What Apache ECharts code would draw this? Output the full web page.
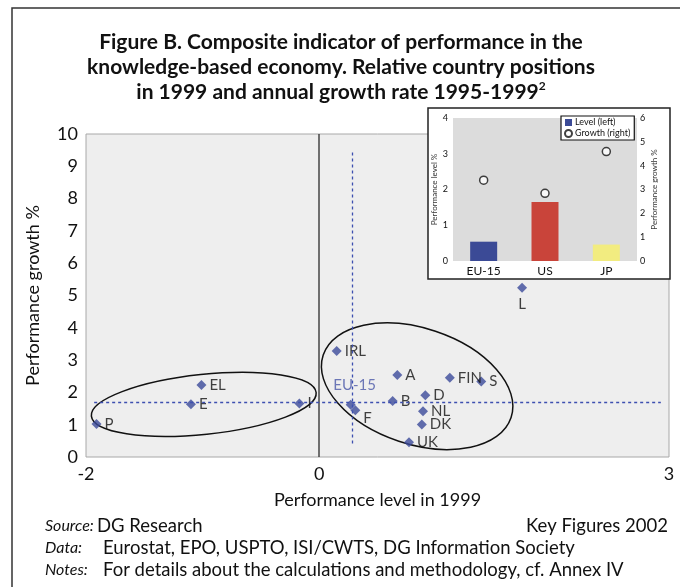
<!DOCTYPE html>
<html>
<head>
<meta charset="utf-8">
<script src="https://cdn.jsdelivr.net/npm/echarts@6/dist/echarts.min.js"></script>
<style>
  html, body { margin: 0; padding: 0; background: #fff; }
  #chart { width: 680px; height: 587px; }
</style>
</head>
<body>
<div id="chart"></div>
<script>
// country positions: level 1999 vs annual growth 1995-1999
var countries = ['P', 'E', 'EL', 'I', 'IRL', 'A', 'FIN', 'S', 'D', 'B', 'EU-15', 'F', 'NL', 'DK', 'UK', 'L'];
var level1999 = [-1.91, -1.10, -1.01, -0.17, 0.15, 0.67, 1.12, 1.39, 0.91, 0.63, 0.27, 0.31, 0.89, 0.88, 0.77, 1.74];
var growth9599 = [1.02, 1.63, 2.23, 1.66, 3.28, 2.54, 2.45, 2.34, 1.91, 1.73, 1.62, 1.45, 1.42, 1.01, 0.46, 5.24];
var xTicks = [-2, 0, 3];

// EU-15 guide lines
var euLevel = 0.28;
var euGrowth = 1.70;

// inset: EU-15 / US / JP
var blocs = ['EU-15', 'US', 'JP'];
var blocLevel = [0.54, 1.65, 0.46];
var blocGrowth = [3.39, 2.84, 4.59];

var blocColors = ['#3b4a96', '#c9443a', '#f2ec80'];
var dotColor = '#3b4a9a';
var font = 'Lato';

// the two hand drawn groupings (centre in data units, radii in px)
var groups = [
  { cx: -0.99, cy: 1.63, rx: 113, ry: 30, angle: 6 },
  { cx: 0.84, cy: 2.19, rx: 99, ry: 58, angle: -18.4 }
];

// label placement tweaks
var labelTweaks = {
  'EU-15': { position: 'top', distance: 7, offset: [4, 0], color: '#4a58a8' },
  'F': { offset: [0, 8] },
  'L': { position: 'bottom', distance: 4 }
};

var chart = echarts.init(document.getElementById('chart'));

var points = countries.map(function (c, i) {
  var item = { name: c, value: [level1999[i], growth9599[i]] };
  if (labelTweaks[c]) item.label = labelTweaks[c];
  return item;
});

function footText(x, y, text, italic, align) {
  return {
    type: 'text', x: x, y: y, z: 10,
    style: {
      text: text,
      fill: '#111',
      font: italic ? 'italic 16px ' + font : '18.5px ' + font,
      align: align || 'left',
      verticalAlign: 'middle'
    }
  };
}

var titleRich = {
  t: { fontFamily: font, fontSize: 21, fontWeight: 'bold', color: '#111', lineHeight: 25, align: 'center' },
  sup: { fontFamily: font, fontSize: 12, fontWeight: 'bold', color: '#111', verticalAlign: 'top', lineHeight: 14, align: 'center' }
};

var option = {
  animation: false,
  backgroundColor: '#fff',
  textStyle: { fontFamily: font },
  legend: {
    left: 561, top: 116,
    orient: 'vertical',
    padding: [2, 4, 2, 3],
    itemGap: 2,
    itemWidth: 7, itemHeight: 7,
    borderColor: '#111', borderWidth: 1.2,
    backgroundColor: '#fff',
    z: 8,
    textStyle: { fontSize: 9, color: '#111', fontFamily: font, padding: [0, 0, 0, -2] },
    data: [{ name: 'Level (left)', icon: 'rect' }, { name: 'Growth (right)', icon: 'circle' }]
  },
  grid: [
    { left: 86, top: 134, width: 583, height: 323, show: true,
      backgroundColor: '#eeeeee', borderColor: '#a8a8a8', borderWidth: 1 },
    { left: 453, top: 118, width: 184, height: 143, show: true, z: 4,
      backgroundColor: '#dcdcdc', borderWidth: 0 }
  ],
  xAxis: [
    {
      type: 'value', gridIndex: 0, min: -2, max: 3,
      axisLine: { show: false }, axisTick: { show: false }, splitLine: { show: false },
      axisLabel: { customValues: xTicks, fontSize: 18, color: '#111', margin: 8 },
      name: 'Performance level in 1999', nameLocation: 'middle', nameGap: 34,
      nameTextStyle: { fontSize: 18, color: '#111' }
    },
    {
      type: 'category', gridIndex: 1, data: blocs, z: 5,
      axisLine: { show: false }, axisTick: { show: false },
      axisLabel: { fontSize: 12, color: '#111', margin: 4 }
    }
  ],
  yAxis: [
    {
      type: 'value', gridIndex: 0, min: 0, max: 10, interval: 1,
      axisLine: { show: false }, axisTick: { show: false }, splitLine: { show: false },
      axisLabel: { fontSize: 18, color: '#111', margin: 8 },
      name: 'Performance growth %', nameLocation: 'middle', nameGap: 44,
      nameTextStyle: { fontSize: 18, color: '#111' }
    },
    {
      type: 'value', gridIndex: 1, min: 0, max: 4, interval: 1, z: 5,
      axisLine: { show: false }, axisTick: { show: false }, splitLine: { show: false },
      axisLabel: { fontSize: 9, color: '#111', margin: 5 },
      name: 'Performance level %', nameLocation: 'middle', nameGap: 10,
      nameTextStyle: { fontSize: 8, color: '#333' }
    },
    {
      type: 'value', gridIndex: 1, position: 'right', min: 0, max: 6, interval: 1, z: 5,
      axisLine: { show: false }, axisTick: { show: false }, splitLine: { show: false },
      axisLabel: { fontSize: 9, color: '#111', margin: 3 },
      name: 'Performance growth %', nameLocation: 'middle', nameGap: 13,
      nameTextStyle: { fontSize: 8, color: '#333' }
    }
  ],
  graphic: [
    // outer frame
    { type: 'polyline', z: 10, shape: { points: [[12, 587], [12, 8], [680, 8]] },
      style: { fill: 'none', stroke: '#333', lineWidth: 1.5 } },
    // title
    { type: 'text', x: 341, y: 30, z: 10,
      style: {
        text: '{t|Figure B. Composite indicator of performance in the}\n' +
              '{t|knowledge-based economy. Relative country positions}\n' +
              '{t|in 1999 and annual growth rate 1995-1999}{sup|2}',
        align: 'center', verticalAlign: 'top', fill: '#111',
        rich: titleRich
      } },
    // inset box
    { type: 'rect', z: 3, shape: { x: 428, y: 108, width: 242, height: 171 },
      style: { fill: '#fff', stroke: '#222', lineWidth: 1.5 } },
    footText(45, 526, 'Source:', true),
    footText(97, 526, 'DG Research'),
    footText(668, 526, 'Key Figures 2002', false, 'right'),
    footText(45, 548, 'Data:', true),
    footText(103, 548, 'Eurostat, EPO, USPTO, ISI/CWTS, DG Information Society'),
    footText(45, 570, 'Notes:', true),
    footText(103, 570, 'For details about the calculations and methodology, cf. Annex IV')
  ],
  series: [
    {
      type: 'custom',
      xAxisIndex: 0, yAxisIndex: 0,
      silent: true,
      z: 3,
      data: groups.map(function (g) { return [g.cx, g.cy]; }),
      renderItem: function (params, api) {
        var g = groups[params.dataIndex];
        var p = api.coord([api.value(0), api.value(1)]);
        return {
          type: 'ellipse',
          x: p[0], y: p[1],
          rotation: g.angle * Math.PI / 180,
          shape: { cx: 0, cy: 0, rx: g.rx, ry: g.ry },
          style: { fill: 'none', stroke: '#111', lineWidth: 1.5 }
        };
      }
    },
    {
      name: 'countries',
      type: 'scatter',
      xAxisIndex: 0, yAxisIndex: 0,
      symbol: 'diamond',
      symbolSize: 10,
      z: 4,
      itemStyle: { color: dotColor },
      label: {
        show: true, position: 'right', distance: 3,
        formatter: '{b}', fontSize: 15, color: '#111', fontFamily: font
      },
      data: points,
      markLine: {
        silent: true,
        symbol: 'none',
        label: { show: false },
        lineStyle: { color: '#3d4fb0', width: 1.3, type: [3, 3] },
        data: [
          { xAxis: 0, lineStyle: { color: '#444', width: 1.5, type: 'solid' } },
          [{ coord: [-1.93, euGrowth] }, { coord: [2.93, euGrowth] }],
          [{ coord: [euLevel, 0.42] }, { coord: [euLevel, 9.44] }]
        ]
      }
    },
    {
      name: 'Level (left)',
      type: 'bar',
      xAxisIndex: 1, yAxisIndex: 1,
      barWidth: 27,
      z: 6,
      itemStyle: { color: blocColors[0] },
      data: blocLevel.map(function (v, i) {
        return { value: v, itemStyle: { color: blocColors[i] } };
      })
    },
    {
      name: 'Growth (right)',
      type: 'scatter',
      xAxisIndex: 1, yAxisIndex: 2,
      symbol: 'circle',
      symbolSize: 8,
      z: 7,
      itemStyle: { color: '#fff', borderColor: '#111', borderWidth: 1.5 },
      data: blocGrowth
    }
  ]
};

chart.setOption(option);
</script>
</body>
</html>
